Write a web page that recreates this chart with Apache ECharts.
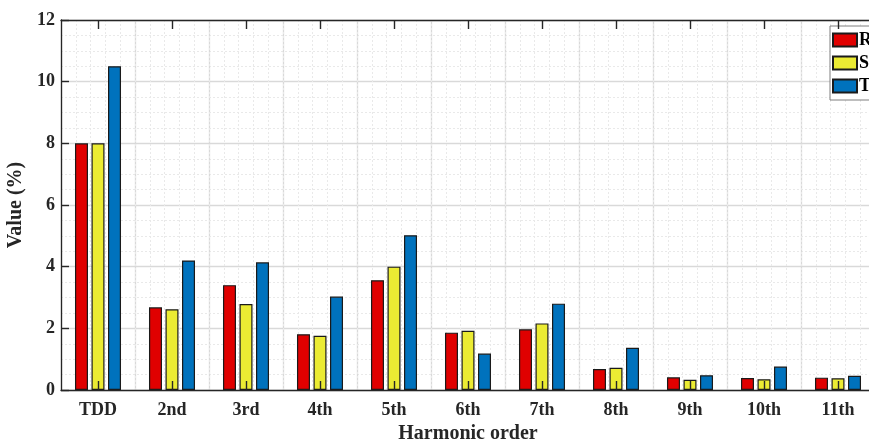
<!DOCTYPE html>
<html>
<head>
<meta charset="utf-8">
<script src="https://cdn.jsdelivr.net/npm/echarts@6/dist/echarts.min.js"></script>
<style>
  html, body { margin: 0; padding: 0; background: #fff; }
  #chart { width: 869px; height: 439px; }
</style>
</head>
<body>
<div id="chart"></div>
<script>
// harmonic order categories
const categories = ['TDD', '2nd', '3rd', '4th', '5th', '6th', '7th', '8th', '9th', '10th', '11th'];
const phaseNames = ['R', 'S', 'T'];

// values in %
const phaseR = [8.0, 2.68, 3.40, 1.81, 3.56, 1.86, 1.97, 0.68, 0.41, 0.39, 0.40];
const phaseS = [8.0, 2.62, 2.79, 1.76, 4.00, 1.92, 2.16, 0.72, 0.33, 0.35, 0.38];
const phaseT = [10.5, 4.20, 4.14, 3.03, 5.02, 1.18, 2.80, 1.37, 0.48, 0.76, 0.46];

const yTicks = [0, 2, 4, 6, 8, 10, 12];

const FONT = "'Liberation Serif', 'Times New Roman', serif";
const TXT = '#262626';
const MAJOR = '#d9d9d9';
const MINOR = '#e9e9e9';

const chart = echarts.init(document.getElementById('chart'));

const barStyle = (color) => ({
  color: color,
  borderColor: '#1a1a1a',
  borderWidth: 1.2
});

const option = {
  backgroundColor: '#ffffff',
  animation: false,
  legend: {
    data: phaseNames,
    orient: 'vertical',
    left: 830,
    top: 26,
    padding: [5, 20, 5, 2],
    icon: 'rect',
    itemWidth: 24,
    itemHeight: 13,
    itemGap: 5,
    backgroundColor: '#ffffff',
    borderColor: '#7f7f7f',
    borderWidth: 1,
    textStyle: {
      fontFamily: FONT,
      fontWeight: 'bold',
      fontSize: 18,
      lineHeight: 14,
      padding: [0, 0, 0, -3],
      color: '#000'
    }
  },
  grid: {
    left: 61,
    top: 20,
    width: 814,
    bottom: 49,
    containLabel: false,
    outerBoundsMode: 'none'
  },
  xAxis: [{
    // main category axis (bottom)
    type: 'category',
    data: categories,
    z: 5,
    name: 'Harmonic order',
    nameLocation: 'middle',
    nameGap: 32,
    nameTextStyle: { fontFamily: FONT, fontWeight: 'bold', fontSize: 20, color: TXT },
    axisLine: { onZero: false, lineStyle: { color: TXT, width: 1.3 } },
    axisTick: { show: true, inside: true, alignWithLabel: true, length: 9, lineStyle: { color: TXT, width: 1.4 } },
    axisLabel: { fontFamily: FONT, fontWeight: 'bold', fontSize: 18, color: TXT, margin: 11 },
    splitLine: { show: false }
  }, {
    // major vertical grid at category centres
    type: 'value',
    min: -0.5,
    max: 10.5,
    interval: 1,
    position: 'bottom',
    axisLine: { show: false, onZero: false },
    axisTick: { show: false },
    axisLabel: { show: false },
    splitLine: { show: true, lineStyle: { color: MAJOR, width: 1.3 } }
  }, {
    // minor vertical grid
    type: 'value',
    min: -0.5,
    max: 10.5,
    interval: 0.2,
    position: 'bottom',
    axisLine: { show: false, onZero: false },
    axisTick: { show: false },
    axisLabel: { show: false },
    splitLine: { show: true, lineStyle: { color: MINOR, width: 1, type: [2, 2] } }
  }, {
    // top box edge with inward ticks
    type: 'category',
    data: categories,
    position: 'top',
    z: 5,
    axisLine: { onZero: false, lineStyle: { color: TXT, width: 1.3 } },
    axisTick: { show: true, inside: true, alignWithLabel: true, length: 9, lineStyle: { color: TXT, width: 1.4 } },
    axisLabel: { show: false },
    splitLine: { show: false }
  }],
  yAxis: {
    type: 'value',
    min: yTicks[0],
    max: yTicks[yTicks.length - 1],
    interval: 2,
    name: 'Value (%)',
    nameLocation: 'middle',
    nameGap: 35,
    nameTextStyle: { fontFamily: FONT, fontWeight: 'bold', fontSize: 20, color: TXT },
    axisLine: { show: true, onZero: false, lineStyle: { color: TXT, width: 1.3 } },
    axisTick: { show: true, inside: true, length: 8, lineStyle: { color: TXT, width: 1.4 } },
    axisLabel: { fontFamily: FONT, fontWeight: 'bold', fontSize: 18, color: TXT, margin: 6 },
    splitLine: { show: true, lineStyle: { color: MAJOR, width: 1.3 } },
    minorTick: { show: false, splitNumber: 4 },
    minorSplitLine: { show: true, lineStyle: { color: MINOR, width: 1, type: [2, 2] } }
  },
  series: [{
    name: 'R',
    type: 'bar',
    xAxisIndex: 0,
    barWidth: 13,
    barGap: '27%',
    itemStyle: barStyle('#e00000'),
    data: phaseR
  }, {
    name: 'S',
    type: 'bar',
    xAxisIndex: 0,
    barWidth: 13,
    barGap: '27%',
    itemStyle: barStyle('#ebeb33'),
    data: phaseS
  }, {
    name: 'T',
    type: 'bar',
    xAxisIndex: 0,
    barWidth: 13,
    barGap: '27%',
    itemStyle: barStyle('#0072bd'),
    data: phaseT
  }]
};

chart.setOption(option);
</script>
</body>
</html>
